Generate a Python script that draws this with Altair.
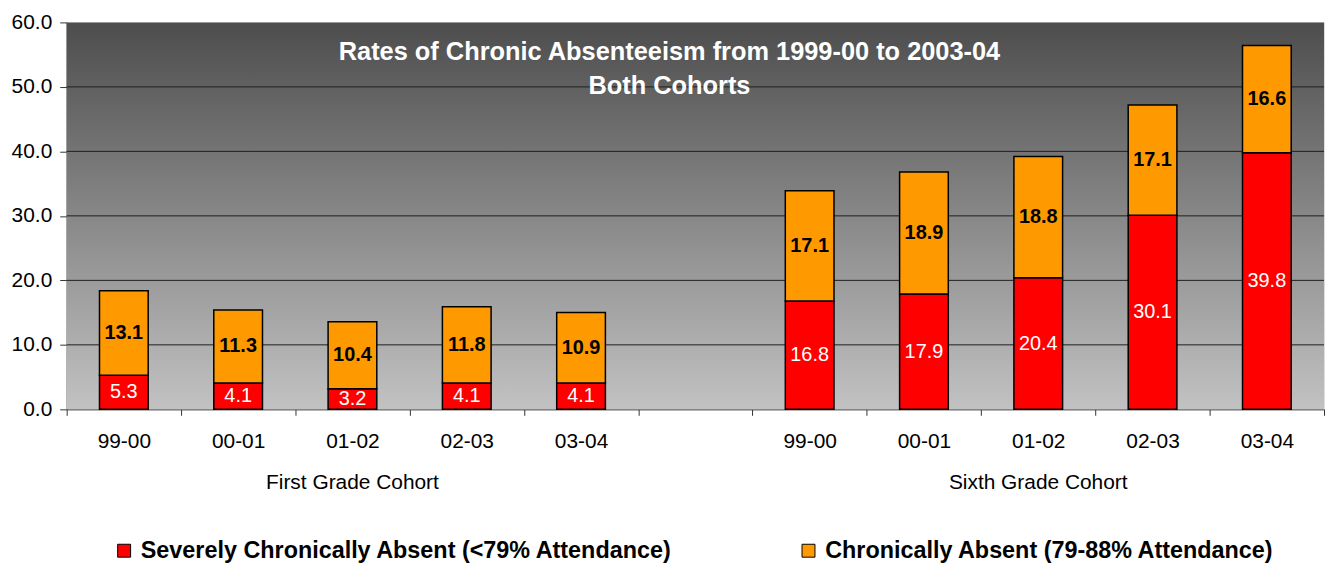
import altair as alt
import pandas as pd

# ---- data ----
first_labels = ["99-00", "00-01", "01-02", "02-03", "03-04"]
sixth_labels = ["99-00", "00-01", "01-02", "02-03", "03-04"]
first_severe = [5.3, 4.1, 3.2, 4.1, 4.1]
first_chronic = [13.1, 11.3, 10.4, 11.8, 10.9]
sixth_severe = [16.8, 17.9, 20.4, 30.1, 39.8]
sixth_chronic = [17.1, 18.9, 18.8, 17.1, 16.6]
series_names = ["Severely Chronically Absent (<79% Attendance)",
                "Chronically Absent (79-88% Attendance)"]
series_colors = ["#FF0000", "#FF9900"]
group_names = ["First Grade Cohort", "Sixth Grade Cohort"]
group_mid_slots = ["F 01-02", "S 01-02"]
title_lines = ["Rates of Chronic Absenteeism from 1999-00 to 2003-04", "Both Cohorts"]
y_ticks = [0, 10, 20, 30, 40, 50, 60]
grid_ticks = [10, 20, 30, 40, 50]

slots = ["F " + l for l in first_labels] + ["G "] + ["S " + l for l in sixth_labels]

rows = []
for prefix, labels, sev, chro in [("F ", first_labels, first_severe, first_chronic),
                                  ("S ", sixth_labels, sixth_severe, sixth_chronic)]:
    for l, s, c in zip(labels, sev, chro):
        rows.append(dict(slot=prefix + l, series=series_names[0], value=s, ord=0,
                         mid=s / 2, label=f"{s:.1f}"))
        rows.append(dict(slot=prefix + l, series=series_names[1], value=c, ord=1,
                         mid=s + c / 2, label=f"{c:.1f}"))
df = pd.DataFrame(rows)
grid_df = pd.DataFrame({"tick": grid_ticks})
group_df = pd.DataFrame({"slot": group_mid_slots, "name": group_names})
one_df = pd.DataFrame({"k": [0]})

W, H = 1264, 389
FONT = "Liberation Sans"

x_axis = alt.Axis(title=None, labelExpr="slice(datum.label, 2)", labelAngle=0,
                  tickBand="extent", tickSize=6, labelPadding=15, labelFontSize=21,
                  labelColor="black", domainColor="#333333", tickColor="#333333",
                  grid=False, labelFont=FONT)
x_scale = alt.Scale(domain=slots, paddingInner=0, paddingOuter=0)
y_axis = alt.Axis(title=None, values=y_ticks, format=".1f", tickSize=7, labelPadding=8,
                  labelFontSize=21, labelColor="black", grid=False,
                  domainColor="#333333", tickColor="#333333", labelFont=FONT)
y_scale = alt.Scale(domain=[0, 60], nice=False)

bg = alt.Chart(one_df).mark_rect(
    fill=alt.LinearGradient(
        gradient="linear", x1=0, x2=0, y1=0, y2=1,
        stops=[alt.GradientStop(color="#4d4d4d", offset=0),
               alt.GradientStop(color="#c2c2c2", offset=1)])
).encode(x=alt.value(0), x2=alt.value("width"), y=alt.value(0), y2=alt.value("height"))

grid = alt.Chart(grid_df).mark_rule(color="#1e1e1e", strokeWidth=1).encode(
    y=alt.Y("tick:Q", scale=y_scale, axis=y_axis),
    x=alt.value(0), x2=alt.value("width"))

bars = alt.Chart(df).mark_bar(
    width=alt.RelativeBandSize(0.426), stroke="black", strokeWidth=1.5
).encode(
    x=alt.X("slot:N", sort=slots, scale=x_scale, axis=x_axis),
    y=alt.Y("value:Q", stack="zero", scale=y_scale, axis=y_axis),
    color=alt.Color("series:N", scale=alt.Scale(domain=series_names, range=series_colors),
                    legend=alt.Legend(title=None, orient="none", legendX=46, legendY=519,
                                      direction="horizontal", symbolType="square",
                                      symbolSize=169, symbolStrokeColor="black",
                                      symbolStrokeWidth=1, labelFontSize=23.5,
                                      labelFontWeight="bold", labelFont=FONT,
                                      labelColor="black", labelLimit=900,
                                      columnPadding=124, labelOffset=5, padding=0)),
    order=alt.Order("ord:Q", sort="ascending"),
)

sev_text = alt.Chart(df).transform_filter(alt.datum.ord == 0).mark_text(
    color="white", fontSize=20, font=FONT, baseline="middle"
).encode(
    x=alt.X("slot:N", sort=slots, scale=x_scale, axis=x_axis),
    y=alt.Y("mid:Q", stack=None, scale=y_scale, axis=y_axis),
    text="label:N",
)

chr_text = alt.Chart(df).transform_filter(alt.datum.ord == 1).mark_text(
    color="black", fontSize=20, font=FONT, fontWeight="bold", baseline="middle"
).encode(
    x=alt.X("slot:N", sort=slots, scale=x_scale, axis=x_axis),
    y=alt.Y("mid:Q", stack=None, scale=y_scale, axis=y_axis),
    text="label:N",
)

groups = alt.Chart(group_df).mark_text(
    color="black", fontSize=21, font=FONT, baseline="alphabetic"
).encode(
    x=alt.X("slot:N", sort=slots, scale=x_scale, axis=x_axis),
    y=alt.value(H + 80),
    text="name:N",
)

title = alt.Chart(one_df).mark_text(
    text=title_lines, color="white", fontSize=25.5, font=FONT, fontWeight="bold",
    lineHeight=34, align="center", baseline="alphabetic"
).encode(x=alt.value(606), y=alt.value(38))

chart = alt.layer(bg, grid, bars, sev_text, chr_text, groups, title).properties(
    width=W, height=H, padding={"left": 3, "top": 2, "right": 0, "bottom": 0},
    background="white"
).configure_view(stroke=None).configure(font=FONT)

chart.save("out.html", embed_options={"renderer": "svg", "actions": False})
